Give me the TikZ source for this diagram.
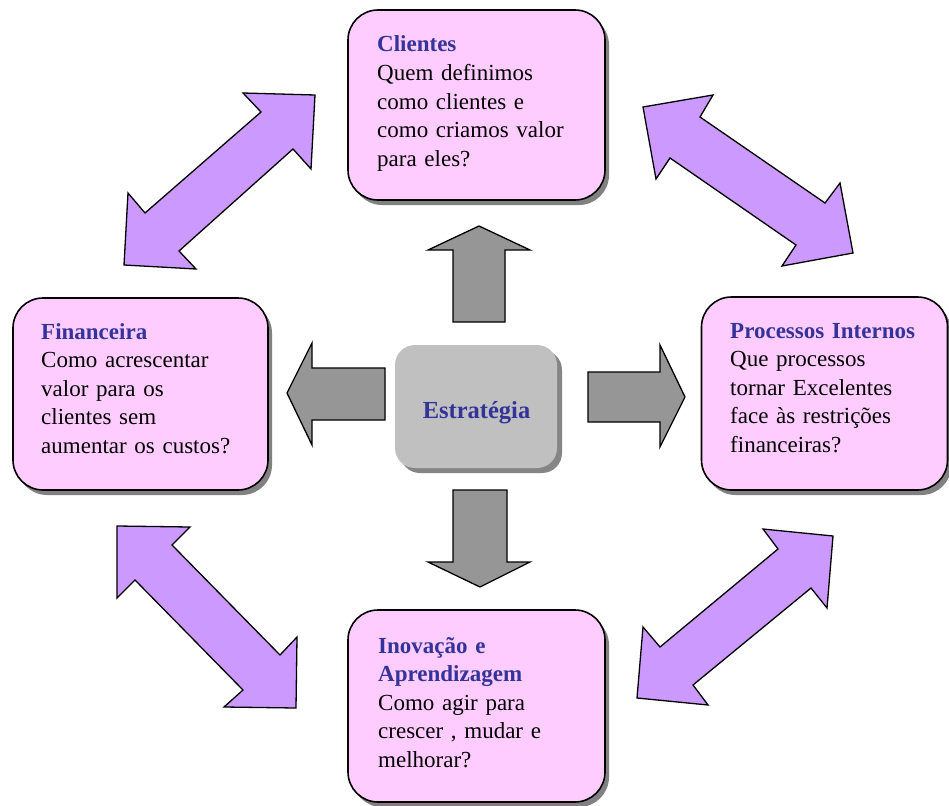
\documentclass[tikz,border=0pt]{standalone}
\usepackage{fontspec}
\setmainfont{Liberation Serif}
\usetikzlibrary{shadows}

\definecolor{cardpink}{HTML}{FFCCFF}
\definecolor{headblue}{HTML}{333399}
\definecolor{corefill}{HTML}{C0C0C0}
\definecolor{coreshadow}{HTML}{858585}
\definecolor{blockgray}{HTML}{969696}
\definecolor{blockpurple}{HTML}{CC99FF}

\tikzset{
  card/.style={draw=black, line width=1.6pt, fill=cardpink, rounded corners=30pt,
    drop shadow={shadow xshift=4pt, shadow yshift=-5pt, fill=black!55, opacity=0.9}},
  core/.style={fill=corefill, rounded corners=20pt,
    drop shadow={shadow xshift=5pt, shadow yshift=-5pt, fill=coreshadow, opacity=1}},
  cardtext/.style={anchor=base west, inner sep=0pt, text width=245pt, align=left,
    font=\fontsize{23}{28.6}\selectfont},
  grayblock/.style={draw=black, line width=1.3pt, fill=blockgray, line join=miter},
  purpleblock/.style={draw=black, line width=1.3pt, fill=blockpurple, line join=miter},
}

\newcommand{\hd}[1]{{\bfseries\color{headblue}#1}}

\begin{document}
\begin{tikzpicture}[x=1pt, y=-1pt]
\useasboundingbox (0,0) rectangle (949,805);

% the four perspective cards
\node[card, minimum width=257pt, minimum height=190pt] (cli) at (476.5,105) {};
\node[card, minimum width=255pt, minimum height=192pt] (fin) at (140.5,394) {};
\node[card, minimum width=246pt, minimum height=193pt] (proc) at (824.5,393.5) {};
\node[card, minimum width=257pt, minimum height=192pt] (inov) at (476.5,706) {};

% central strategy box
\node[core, minimum width=162pt, minimum height=123pt] (estr) at (476,406.5) {};
\node[anchor=base, inner sep=0pt, font=\bfseries\fontsize{24.5}{28}\selectfont, text=headblue]
  (estrtxt) at (476.5,418) {Estratégia};

% card texts
\node[cardtext] (clitxt) at (377,52)
  {\hd{Clientes}\\Quem definimos\\como clientes e\\como criamos valor\\para eles?};
\node[cardtext] (fintxt) at (41,339)
  {\hd{Financeira}\\Como acrescentar\\valor para os\\clientes sem\\aumentar os custos?};
\node[cardtext] (proctxt) at (730,338)
  {\hd{Processos Internos}\\Que processos\\tornar Excelentes\\face às restrições\\financeiras?};
\node[cardtext] (inovtxt) at (378,653)
  {\hd{Inovação e}\\\hd{Aprendizagem}\\Como agir para\\crescer , mudar e\\melhorar?};

% gray block arrows pointing out of the strategy box
\draw[grayblock] (453,322) -- (453,250) -- (428,250) -- (479,226) -- (530,250)
  -- (505,250) -- (505,322) -- cycle;
\draw[grayblock] (385,368) -- (312,368) -- (312,343) -- (287,393) -- (312,445)
  -- (312,420) -- (385,420) -- cycle;
\draw[grayblock] (588,372) -- (660,372) -- (660,345) -- (685,397) -- (660,447)
  -- (660,422) -- (588,422) -- cycle;
\draw[grayblock] (453,490) -- (507,490) -- (507,562) -- (530,562) -- (480,587)
  -- (428,562) -- (453,562) -- cycle;

% purple double block arrows between neighbouring cards
\draw[purpleblock] (315,95) -- (243,93) -- (261,112) -- (145,213) -- (128,193)
  -- (124,265) -- (196,269) -- (179,251) -- (293,149) -- (311,169) -- cycle;
\draw[purpleblock] (643,107) -- (713,95) -- (700,117) -- (825,203) -- (840,183)
  -- (853,253) -- (782,266) -- (796,245) -- (670,158) -- (656,179) -- cycle;
\draw[purpleblock] (117,526) -- (190,527) -- (172,545) -- (280,655) -- (297,637)
  -- (296,708) -- (224,707) -- (243,690) -- (135,580) -- (117,598) -- cycle;
\draw[purpleblock] (833,536) -- (763,529) -- (778,549) -- (660,647) -- (643,627)
  -- (637,698) -- (708,705) -- (693,685) -- (811,588) -- (827,608) -- cycle;
\end{tikzpicture}
\end{document}
